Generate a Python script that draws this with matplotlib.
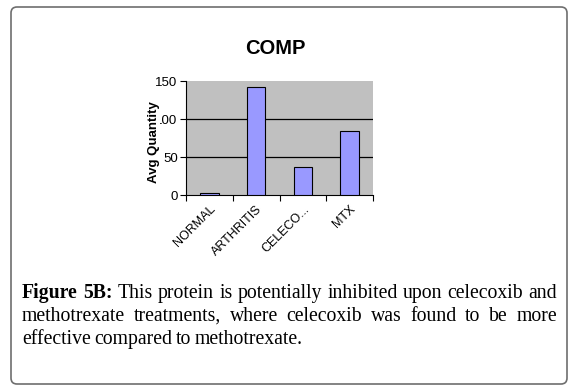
import matplotlib
matplotlib.use("Agg")
import matplotlib.pyplot as plt
from matplotlib.patches import FancyBboxPatch
from matplotlib.transforms import IdentityTransform

# data
categories = ["NORMAL", "ARTHRITIS", "CELECO...", "MTX"]
avg_quantity = [2, 142, 37, 84]
y_ticks = [0, 50, 100, 150]

caption_lines = [
    [("Figure", True), ("5B:", True), ("This", False), ("protein", False), ("is", False),
     ("potentially", False), ("inhibited", False), ("upon", False), ("celecoxib", False),
     ("and", False)],
    [("methotrexate", False), ("treatments,", False), ("where", False), ("celecoxib", False),
     ("was", False), ("found", False), ("to", False), ("be", False), ("more", False)],
    [("effective", False), ("compared", False), ("to", False), ("methotrexate.", False)],
]

W, H = 576, 391
fig = plt.figure(figsize=(W / 100, H / 100), dpi=100)

# rounded frame around the whole figure
frame = FancyBboxPatch((11, H - 384), 556, 377, boxstyle="round,pad=0,rounding_size=6",
                       transform=IdentityTransform(), facecolor="none",
                       edgecolor="#6e6e6e", linewidth=1.2)
fig.add_artist(frame)

ax = fig.add_axes([186 / W, 1 - 195 / H, 187 / W, 114 / H])
ax.set_facecolor("#c0c0c0")
x = list(range(len(categories)))
ax.bar(x, avg_quantity, width=0.4, color="#9999ff", edgecolor="black", linewidth=0.8, zorder=3)
ax.set_xlim(-0.5, len(categories) - 0.5)
ax.set_ylim(0, 150)
ax.set_yticks(y_ticks)
for v in y_ticks[1:-1]:
    ax.axhline(v, color="black", linewidth=0.9, zorder=1)

for s in ["top", "right"]:
    ax.spines[s].set_visible(False)
ax.spines["left"].set_linewidth(0.8)
ax.spines["bottom"].set_linewidth(0.8)

ax.set_xticks(x)
ax.set_xticklabels(categories, rotation=45, ha="right", rotation_mode="anchor",
                   fontsize=9, family="Liberation Sans")
ax.set_xticks([i - 0.5 for i in range(len(categories) + 1)], minor=True)
ax.tick_params(axis="x", which="major", length=0, pad=6)
ax.tick_params(axis="x", which="minor", length=4, width=0.8, direction="out")
ax.tick_params(axis="y", length=4, width=0.8, direction="out", pad=2)
for lb in ax.get_yticklabels():
    lb.set_fontsize(9.5)
    lb.set_family("Liberation Sans")

# the label sits over the tick numbers, as in the source image
ax.set_ylabel("Avg Quantity", fontsize=9.5, fontweight="bold", family="Liberation Sans",
              bbox=dict(facecolor="white", edgecolor="none", pad=0))
ax.yaxis.set_label_coords(-0.139, 0.465)

fig.text(275 / W, 1 - 48 / H, "COMP", ha="center", va="center", fontsize=14.5,
         fontweight="bold", family="Liberation Sans")

# justified caption, word by word
fig.canvas.draw()
renderer = fig.canvas.get_renderer()
left, right = 22, 557
baselines = [298, 321, 344]
for li, words in enumerate(caption_lines):
    texts = []
    for w, bold in words:
        t = fig.text(0, 0, w, fontsize=14.2, family="Liberation Serif",
                     fontweight="bold" if bold else "normal",
                     transform=IdentityTransform(), va="baseline", ha="left")
        texts.append(t)
    widths = [t.get_window_extent(renderer).width for t in texts]
    if li < len(caption_lines) - 1:
        gap = (right - left - sum(widths)) / (len(texts) - 1)
    else:
        gap = 3.6
    xpos = left
    for t, wdt in zip(texts, widths):
        t.set_position((xpos, H - baselines[li]))
        xpos += wdt + gap

fig.savefig("out.png", dpi=100)
